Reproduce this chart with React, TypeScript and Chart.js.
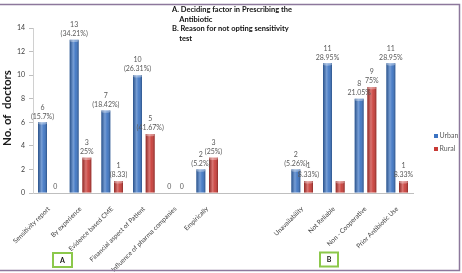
import React, { useEffect, useRef } from "react";
import { Chart, registerables } from "chart.js";

Chart.register(...registerables);

const categories = [
  "Sensitivity report",
  "By experience",
  "Evidence based CME",
  "Financial aspect of Patient",
  "Influence of pharma companies",
  "Empirically",
  "",
  "",
  "Unavailability",
  "Not Reliable",
  "Non - Cooperative",
  "Prior Antibiotic Use",
];
const urban = [6, 13, 7, 10, 0, 2, null, null, 2, 11, 8, 11];
const rural = [0, 3, 1, 5, 0, 3, null, null, 1, 1, 9, 1];
const urbanLabels = [
  ["6", "(15.7%)"],
  ["13", "(34.21%)"],
  ["7", "(18.42%)"],
  ["10", "(26.31%)"],
  ["0"],
  ["2", "(5.2%)"],
  [],
  [],
  ["2", "(5.26%)"],
  ["11", "28.95%"],
  ["8", "21.05%"],
  ["11", "28.95%"],
];
const ruralLabels = [
  ["0"],
  ["3", "25%"],
  ["1", "(8.33)"],
  ["5", "(41.67%)"],
  ["0"],
  ["3", "(25%)"],
  [],
  [],
  ["1", "8.33%)"],
  [],
  ["9", "75%"],
  ["1", "8.33%"],
];
const yTicks = [0, 2, 4, 6, 8, 10, 12, 14];
const seriesNames = ["Urban", "Rural"];
const noteLines = [
  "A. Deciding factor in Prescribing the",
  "    Antibiotic",
  "B. Reason for not opting sensitivity",
  "    test",
];
const yTitle = "No. of  doctors";

const FONT = "Lato, 'Open Sans', sans-serif";
const BLUE = "#3b73c2";
const RED = "#c83a35";

const decorPlugin = {
  id: "decor",
  afterDatasetDraw(chart: any, args: any) {
    const ctx = chart.ctx;
    const meta = args.meta;
    ctx.save();
    meta.data.forEach((bar: any) => {
      const { x, y, base, width } = bar.getProps(["x", "y", "base", "width"], true);
      if (!isFinite(y) || Math.abs(base - y) < 0.5) return;
      const left = x - width / 2;
      const g = ctx.createLinearGradient(left, 0, left + width, 0);
      g.addColorStop(0, "rgba(0,0,0,0.28)");
      g.addColorStop(0.4, "rgba(255,255,255,0.30)");
      g.addColorStop(0.65, "rgba(255,255,255,0.08)");
      g.addColorStop(1, "rgba(0,0,0,0.30)");
      ctx.fillStyle = g;
      ctx.fillRect(left, y, width, base - y);
      ctx.fillStyle = "rgba(255,255,255,0.35)";
      ctx.beginPath();
      ctx.ellipse(x, y + 1, width / 2, 1.3, 0, 0, Math.PI * 2);
      ctx.fill();
    });
    ctx.restore();
  },
  afterDatasetsDraw(chart: any) {
    const ctx = chart.ctx;
    ctx.save();
    ctx.font = `7px ${FONT}`;
    ctx.fillStyle = "#5a5a5a";
    ctx.textAlign = "center";
    ctx.textBaseline = "middle";
    const sets = [urbanLabels, ruralLabels];
    sets.forEach((labels, di) => {
      const meta = chart.getDatasetMeta(di);
      meta.data.forEach((bar: any, i: number) => {
        const lines = labels[i] || [];
        if (!lines.length) return;
        const { x, y } = bar.getProps(["x", "y"], true);
        if (!isFinite(y)) return;
        const n = lines.length;
        lines.forEach((t: string, k: number) => {
          ctx.fillText(t, x, y - 6 - (n - 1 - k) * 9);
        });
      });
    });
    ctx.restore();
  },
  afterDraw(chart: any) {
    const ctx = chart.ctx;
    ctx.save();
    // frame
    ctx.strokeStyle = "#8d789c";
    ctx.lineWidth = 1.5;
    ctx.beginPath();
    ctx.moveTo(0, 4.5);
    ctx.lineTo(459.5, 4.5);
    ctx.lineTo(459.5, 270.5);
    ctx.lineTo(0, 270.5);
    ctx.stroke();
    // note text
    ctx.fillStyle = "#111";
    ctx.font = `bold 7.5px ${FONT}`;
    ctx.textAlign = "left";
    ctx.textBaseline = "middle";
    const ys = [9.5, 19.5, 28.5, 39];
    noteLines.forEach((t, i) => ctx.fillText(t, 172, ys[i]));
    // y title
    ctx.save();
    ctx.translate(7, 108);
    ctx.rotate(-Math.PI / 2);
    ctx.font = `bold 11.5px ${FONT}`;
    ctx.textAlign = "center";
    ctx.fillStyle = "#1a1a1a";
    ctx.fillText(yTitle, 0, 0);
    ctx.restore();
    // legend
    const colors = [BLUE, RED];
    ctx.font = `7px ${FONT}`;
    seriesNames.forEach((name, i) => {
      const ly = 136 + i * 13;
      ctx.fillStyle = colors[i];
      ctx.fillRect(434, ly - 2, 4, 4);
      ctx.fillStyle = "#5a5a5a";
      ctx.textAlign = "left";
      ctx.fillText(name, 439.5, ly);
    });
    // boxes A and B
    ctx.strokeStyle = "#8cc84b";
    ctx.lineWidth = 2;
    ctx.strokeRect(53, 253, 19, 14);
    ctx.strokeRect(320, 252.5, 18, 14);
    ctx.fillStyle = "#111";
    ctx.font = `bold 7px ${FONT}`;
    ctx.textAlign = "center";
    ctx.fillText("A", 62.5, 260.5);
    ctx.fillText("B", 329, 260);
    ctx.restore();
  },
};

export default function App() {
  const ref = useRef<HTMLCanvasElement | null>(null);
  useEffect(() => {
    if (!ref.current) return;
    const chart = new Chart(ref.current, {
      type: "bar",
      data: {
        labels: categories,
        datasets: [
          {
            label: seriesNames[0],
            data: urban,
            backgroundColor: BLUE,
            categoryPercentage: 0.8,
            barPercentage: 0.71,
          },
          {
            label: seriesNames[1],
            data: rural,
            backgroundColor: RED,
            categoryPercentage: 0.8,
            barPercentage: 0.71,
          },
        ],
      },
      options: {
        responsive: false,
        animation: false,
        layout: { padding: { top: 28, right: 49, left: 0, bottom: 0 } },
        plugins: {
          legend: { display: false },
          tooltip: { enabled: false },
        },
        scales: {
          x: {
            grid: { display: false },
            border: { display: true, color: "#bfbfbf" },
            ticks: {
              autoSkip: false,
              maxRotation: 45,
              minRotation: 45,
              color: "#404040",
              font: { size: 6.5, family: FONT },
              padding: 4,
            },
            afterFit(scale: any) {
              scale.height = 80;
            },
          },
          y: {
            min: 0,
            max: 14,
            afterBuildTicks(scale: any) {
              scale.ticks = yTicks.map((v) => ({ value: v }));
            },
            grid: {
              drawOnChartArea: false,
              drawTicks: true,
              tickLength: 4,
              color: "#bfbfbf",
            },
            border: { display: true, color: "#d0d0d0" },
            ticks: {
              color: "#404040",
              font: { size: 7, family: FONT },
              padding: 4,
            },
            afterFit(scale: any) {
              scale.width = 33;
            },
          },
        },
      },
      plugins: [decorPlugin],
    });
    return () => chart.destroy();
  }, []);
  return (
    <div style={{ position: "absolute", left: 0, top: 0, width: 462, height: 273, background: "#fff" }}>
      <canvas ref={ref} width={462} height={273} style={{ width: 462, height: 273 }} />
    </div>
  );
}
